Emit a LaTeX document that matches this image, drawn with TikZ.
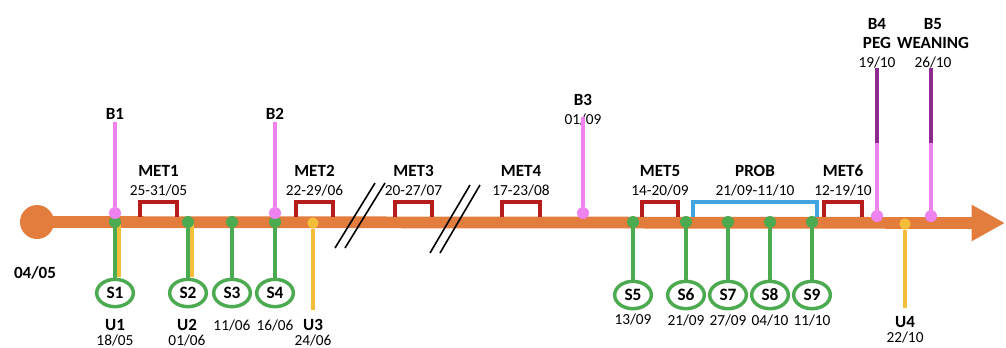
\documentclass[tikz,border=0pt]{standalone}
\usepackage{fontspec}
\setmainfont{Carlito}
\usetikzlibrary{shapes.geometric,arrows.meta}
\definecolor{axisorange}{HTML}{E27D3D}
\definecolor{tlgreen}{HTML}{4CAA50}
\definecolor{tlred}{HTML}{B71C1C}
\definecolor{tlblue}{HTML}{42A5E0}
\definecolor{tlyellow}{HTML}{F5BE3A}
\definecolor{tlpink}{HTML}{EE82EE}
\definecolor{tlpurple}{HTML}{8E2A8E}
\begin{document}
\begin{tikzpicture}[x=0.75pt,y=-0.75pt,
  lab/.style={font=\bfseries\fontsize{12.8}{14}\selectfont, inner sep=0pt},
  datelab/.style={font=\fontsize{11.5}{13}\selectfont, inner sep=0pt},
  gdot/.style={circle, fill=tlgreen, inner sep=0pt, minimum size=9pt},
  pdot/.style={circle, fill=tlpink, inner sep=0pt, minimum size=9pt},
  ydot/.style={circle, fill=tlyellow, inner sep=0pt, minimum size=8.5pt},
  sev/.style={ellipse, draw=tlgreen, line width=2.6pt, fill=white,
    minimum width=27.5pt, minimum height=20.5pt, inner sep=0pt,
    font=\bfseries\fontsize{13}{14}\selectfont},
  gline/.style={draw=tlgreen, line width=2.6pt},
  pline/.style={draw=tlpink, line width=3pt},
  puline/.style={draw=tlpurple, line width=3pt},
  yline/.style={draw=tlyellow, line width=2.4pt},
  bracket/.style={draw=tlred, line width=2.6pt},
  probbracket/.style={draw=tlblue, line width=2.6pt},
  breakmark/.style={draw=black, line width=1.2pt}
]
\useasboundingbox (0,0) rectangle (1006,347);

% main time axis
\node[circle, fill=axisorange, inner sep=0pt, minimum size=25.5pt] (start) at (37,222) {};
\coordinate (tip) at (1005,223);
\draw[axisorange, line width=8.8pt, -{Triangle[width=25.5pt,length=25pt]}] (start.center) -- (tip);
\node[lab] (d0405) at (35,273) {04/05};

% axis breaks
\coordinate (ba1) at (335,248); \coordinate (bb1) at (375,183);
\coordinate (ba2) at (345,248); \coordinate (bb2) at (385,183);
\coordinate (ba3) at (430,253); \coordinate (bb3) at (470,185);
\coordinate (ba4) at (440,253); \coordinate (bb4) at (480,185);
\foreach \i in {1,...,4} \draw[breakmark] (ba\i) -- (bb\i);

% MET brackets
\foreach \n/\a/\b/\d in {1/140/177/{25-31/05}, 2/296/333/{22-29/06}, 3/395/432/{20-27/07},
    4/502/540/{17-23/08}, 5/642/678/{14-20/09}, 6/824/862/{12-19/10}}{
  \coordinate (m\n a) at (\a,217); \coordinate (m\n b) at (\b,217);
  \draw[bracket] (m\n a) -- ++(0,-15) -| (m\n b);
  \node[lab] (met\n) at ({(\a+\b)/2},171) {MET\n};
  \node[datelab] (metd\n) at ({(\a+\b)/2},190) {\d};
}
% PROB bracket
\coordinate (pra) at (693,217); \coordinate (prb) at (817,217);
\draw[probbracket] (pra) -- ++(0,-15) -| (prb);
\node[lab] (prob) at (755,171) {PROB};
\node[datelab] (probd) at (755,190) {21/09-11/10};

% U events (yellow)
\coordinate (u1top) at (119,224); \coordinate (u1bot) at (119,277);
\coordinate (u2top) at (192,224); \coordinate (u2bot) at (192,277);
\draw[yline] (u1top) -- (u1bot);
\draw[yline] (u2top) -- (u2bot);
\node[ydot] (u3) at (313,223) {};
\coordinate (u3bot) at (313,310);
\draw[yline] (u3) -- (u3bot);
\node[ydot] (u4) at (905,224) {};
\coordinate (u4bot) at (905,308);
\draw[yline] (u4) -- (u4bot);
\node[lab] (u1l) at (115,325) {U1}; \node[datelab] (u1d) at (115,340) {18/05};
\node[lab] (u2l) at (187,325) {U2}; \node[datelab] (u2d) at (187,340) {01/06};
\node[lab] (u3l) at (313,325) {U3}; \node[datelab] (u3d) at (313,340) {24/06};
\node[lab] (u4l) at (905,322) {U4}; \node[datelab] (u4d) at (905,337) {22/10};

% S events (green)
\foreach \n/\x/\y in {1/115/293, 2/188/293, 3/232/293, 4/275/293,
    5/633/295, 6/686/295, 7/728/295, 8/770/295, 9/812/295}{
  \node[gdot] (sd\n) at (\x,222) {};
  \node[sev] (s\n) at (\x,\y) {S\n};
  \draw[gline] (sd\n) -- (s\n);
}
\foreach \n/\x/\y/\d in {3/232/325/{11/06}, 4/275/325/{16/06}, 5/633/319/{13/09},
    6/686/320/{21/09}, 7/728/320/{27/09}, 8/770/320/{04/10}, 9/812/320/{11/10}}
  \node[datelab] (sdate\n) at (\x,\y) {\d};

% B events (pink / purple)
\node[pdot] (b1) at (115,213) {};
\coordinate (b1top) at (115,122);
\draw[pline] (b1top) -- (b1);
\node[lab] (b1l) at (115,114) {B1};
\node[pdot] (b2) at (275,213) {};
\coordinate (b2top) at (275,122);
\draw[pline] (b2top) -- (b2);
\node[lab] (b2l) at (275,114) {B2};
\node[lab] (b3l) at (583,100) {B3};
\node[datelab] (b3d) at (583,119) {01/09};
\node[pdot] (b3) at (583,213) {};
\coordinate (b3top) at (583,117);
\draw[pline] (b3top) -- (b3);
\foreach \n/\x/\t/\xl in {4/877/PEG/877, 5/931/WEANING/933}{
  \node[pdot] (b\n) at (\x,216) {};
  \coordinate (b\n mid) at (\x,143);
  \coordinate (b\n top) at (\x,68);
  \draw[pline] (b\n mid) -- (b\n);
  \draw[puline] (b\n top) -- (b\n mid);
  \node[lab] (b\n l) at (\xl,24) {B\n};
  \node[lab] (b\n t) at (\xl,43) {\t};
}
\node[datelab] (b4d) at (877,62) {19/10};
\node[datelab] (b5d) at (933,62) {26/10};
\end{tikzpicture}
\end{document}
